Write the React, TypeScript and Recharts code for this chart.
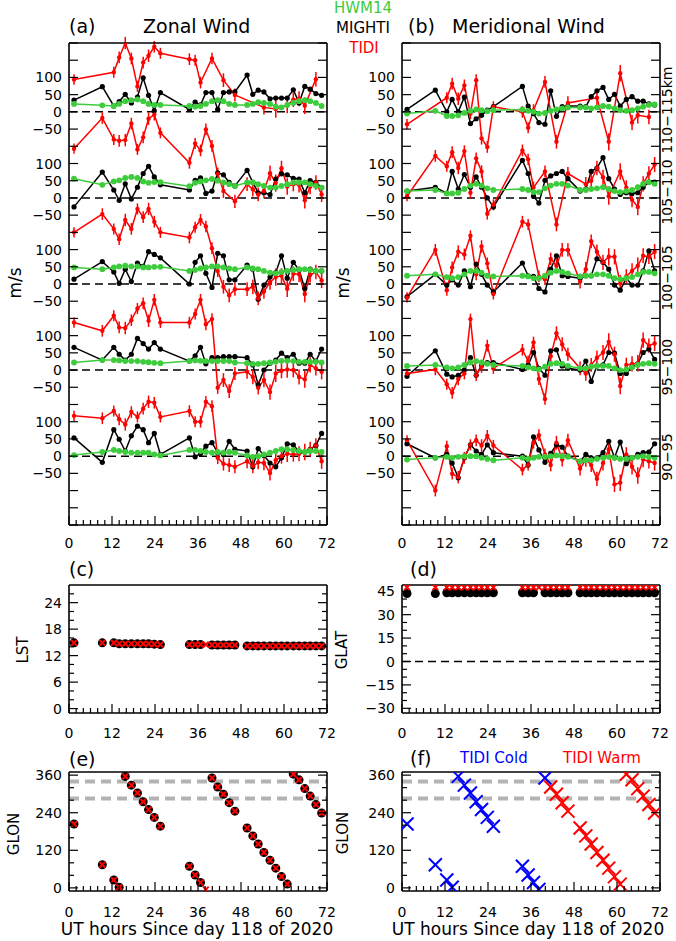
import React from "react";
import {
  ComposedChart,
  Line,
  Scatter,
  XAxis,
  YAxis,
  ReferenceLine,
  ErrorBar,
} from "recharts";

const FONT = "DejaVu Sans, Verdana, sans-serif";
const GREEN = "#3ccc3c";
const RED = "#ff0000";
const BLUE = "#0000ff";

// UT hours since day 118 of 2020 (one sample per orbit)
const HOURS = [
  1.4, 9.3, 12.5, 14.0, 15.7, 17.4, 19.1, 20.7, 22.2, 23.8, 25.5, 33.6, 35.2,
  36.7, 38.2, 39.9, 41.5, 43.1, 44.7, 46.3, 49.7, 51.3, 52.8, 54.4, 56.1, 57.7,
  59.3, 60.9, 62.6, 64.2, 65.8, 67.3, 68.9, 70.5,
];

const X_LABELS = [0, 12, 24, 36, 48, 60, 72];
const BAND_NAMES = ["90\u221295", "95\u2212100", "100\u2212105", "105\u2212110", "110\u2212115km"];
const BAND_OFFSETS = [0, 250, 500, 750, 1000];
const BAND_TICK_LABELS = [-50, 0, 50, 100];
const GLON_LINES = [285, 340];

// zonal wind (m/s), bands bottom -> top
const Z_HWM_90 = [3, 12, 18, 15, 12, 10, 10, 10, 10, 5, 2, 18, 18, 15, 12, 10, 12, 10, 12, 10, 2, -2, 0, 5, 10, 15, 20, 20, 18, 15, 12, 15, 15, 12];
const Z_MIG_90 = [53, -18, 77, 49, 15, 59, 87, 77, 39, 66, 5, 53, -2, 8, 29, 39, 10, 5, 43, 20, 15, -31, 22, 2, -20, -31, -5, 36, 33, 12, 12, 20, 31, 66];
const Z_TID_90 = [117, 110, 131, 107, 92, 128, 114, 138, 158, 155, 114, 131, 100, 100, 158, 145, -5, -22, -26, -31, -15, -29, -18, -20, -49, -12, 0, 7, 5, 7, 12, 20, 31, -15];

const Z_HWM_95 = [22, 29, 29, 28, 26, 26, 26, 24, 23, 21, 20, 26, 28, 27, 26, 26, 26, 26, 26, 22, 20, 18, 18, 20, 22, 24, 27, 27, 26, 24, 24, 24, 24, 22];
const Z_MIG_95 = [66, 29, 66, 46, 29, 46, 92, 77, 61, 80, 61, 26, 41, 66, 18, 36, 36, 39, 39, 39, 36, 15, -43, 0, 20, 29, 49, 36, 46, 20, 20, 46, 26, 61];
const Z_TID_95 = [138, 114, 158, 124, 122, 145, 179, 194, 143, 204, 138, 138, 163, 204, 133, 148, -51, -29, -61, -10, -5, -20, -51, -29, -64, -10, -2, 2, 0, -20, -27, 15, 5, -5];

const Z_HWM_100 = [48, 43, 48, 51, 53, 51, 51, 48, 48, 50, 50, 38, 41, 45, 48, 51, 51, 48, 45, 43, 48, 45, 43, 38, 33, 31, 35, 38, 41, 43, 43, 41, 38, 38];
const Z_MIG_100 = [14, 65, 35, 2, 43, 7, 61, 51, 94, 86, 76, 0, 63, 82, 31, -10, 89, 82, 12, 12, 55, 43, -44, -3, 20, 33, 82, 17, 63, 41, -13, 43, 38, 38];
const Z_TID_100 = [150, 203, 160, 130, 186, 160, 218, 194, 218, 181, 150, 135, 165, 186, 167, 104, 38, -8, -33, -15, -15, -8, -42, -22, 5, 20, 24, -14, 30, 28, -29, 26, 35, 10];

const Z_HWM_105 = [56, 38, 48, 51, 58, 61, 58, 48, 44, 46, 46, 34, 44, 48, 51, 55, 50, 45, 40, 35, 45, 45, 40, 35, 30, 30, 35, 40, 45, 45, 45, 40, 35, 30];
const Z_MIG_105 = [-26, 75, 23, -7, 41, -3, 31, 71, 92, 61, 38, 23, 51, 58, 13, 20, 73, 67, 45, 35, 80, 45, 15, 15, 10, 55, 70, 67, 57, 55, 15, 50, 45, 30];
const Z_TID_105 = [143, 232, 170, 166, 168, 216, 141, 176, 230, 242, 189, 102, 158, 138, 199, 151, 70, 20, null, -10, 40, 25, 10, 20, 72, 43, 86, 33, 40, 38, -7, 33, 45, 10];

const Z_HWM_110 = [23, 19, 17, 23, 31, 34, 36, 31, 23, 20, 20, 17, 15, 17, 23, 31, 34, 31, 23, 20, 20, 23, 28, 26, 23, 15, 13, 20, 26, 31, 34, 31, 26, 17];
const Z_MIG_110 = [34, 73, 17, 30, 51, 26, 43, 99, 48, 3, 56, 7, 28, 20, 56, 56, 7, 56, 58, 58, 107, 51, 63, 58, 38, 40, 40, 40, 64, 26, 74, 66, 53, 48];
const Z_TID_110 = [94, null, 115, 158, 200, 155, 74, 143, 163, 189, 170, 153, 150, 85, null, 155, null, 92, null, 49, null, null, null, 13, null, 8, null, 20, 35, 38, 18, null, 95, null];

// meridional wind (m/s), bands bottom -> top
const M_HWM_90 = [-10, -5, -2, -5, -2, 0, 0, 0, -5, -8, -12, -5, -8, -5, -2, -2, 0, 2, 0, -2, -15, -12, -12, -8, -5, -2, -5, -8, -8, -5, -2, 0, -2, -5];
const M_MIG_90 = [36, -5, 5, -20, -63, -5, 33, 15, 5, 33, 10, 0, -26, 56, 18, -18, 8, 33, 26, 0, -15, 5, -5, -5, 10, 43, -5, 41, -22, -5, 5, 10, 12, 36];
const M_TID_90 = [46, -100, 29, -51, -61, -5, 33, 46, 31, 59, 31, -39, -26, 39, 61, 5, -26, 39, -10, 46, -36, -10, -26, -66, -20, 20, -82, -77, 5, -31, -56, -10, -15, -20];

const M_HWM_95 = [12, 15, 8, 5, 8, 15, 22, 26, 22, 18, 15, 12, 8, 5, 2, 10, 18, 20, 18, 12, 5, 5, 10, 12, 12, 12, 5, 0, 2, 8, 15, 18, 20, 18];
const M_MIG_95 = [-18, 56, -12, -20, -15, 0, 36, -15, 15, 22, 22, 2, 15, 51, 5, -15, 56, 59, 12, 5, 0, 26, -33, 12, 15, 51, 49, -10, -10, 10, 18, 51, 61, 31];
const M_TID_95 = [-10, 2, -41, -66, -26, -10, 148, -15, 10, 71, 5, 59, 26, 80, -26, -84, 40, 107, 75, 46, 5, -10, 15, 36, 51, 82, 46, -46, 15, 18, 20, 87, 71, 77];

const M_HWM_100 = [24, 28, 20, 17, 20, 28, 38, 38, 33, 24, 22, 24, 22, 17, 17, 24, 33, 38, 35, 31, 22, 24, 24, 28, 28, 24, 17, 14, 17, 20, 28, 35, 35, 31];
const M_MIG_100 = [-37, 28, -3, 12, -3, 38, -8, 58, 28, -3, -23, 61, 24, 22, -13, -23, 43, 82, 24, 22, 17, 24, 24, 73, 63, 43, -3, -18, 17, -3, -3, 38, 96, 38];
const M_TID_100 = [-39, 99, -18, 48, 94, 86, 140, 28, 109, 60, -29, 181, 173, null, 22, 14, 73, 53, 99, 99, 7, 43, 124, 94, 63, 79, 79, 2, 22, 38, 53, 82, 79, 94];

const M_HWM_105 = [20, 23, 13, 13, 15, 26, 36, 41, 36, 28, 23, 26, 23, 17, 17, 28, 36, 41, 41, 36, 23, 23, 26, 28, 31, 26, 20, 17, 20, 23, 31, 41, 46, 41];
const M_MIG_105 = [20, 31, 13, 77, 26, 68, 31, 61, 31, 0, -26, 109, 71, 5, -15, 51, 64, 71, 77, 56, 20, 26, 77, 87, 117, 56, 26, 10, 15, 13, 15, 31, 46, 46];
const M_TID_105 = [5, 122, 92, 133, 87, 136, 15, 115, 77, -46, -20, 138, 112, 30, null, 77, null, -77, null, 71, null, 40, 50, 87, 60, 5, null, 77, 30, -5, -26, 41, 71, 97];

const M_HWM_110 = [-5, 3, -12, -12, -10, -3, 3, 7, 5, 2, 5, 7, 3, 0, -5, -3, 3, 7, 10, 13, 13, 13, 10, 13, 17, 15, 10, 5, 3, 5, 10, 15, 20, 22];
const M_MIG_110 = [7, 63, 0, 36, 0, 43, -34, -20, -10, 5, 15, 74, 17, -5, -31, -36, 61, -13, 15, 17, 17, 15, 44, 61, 71, 36, 51, 17, 36, 44, 31, 31, 23, 20];
const M_TID_110 = [-36, null, 41, 82, 38, 77, -5, 92, -77, -102, 15, 0, -46, 5, null, 87, null, -87, null, 26, null, null, null, 41, null, -87, null, 112, null, -31, -10, null, -15, null];

// TIDI wind uncertainty (m/s)
const TIDI_ERR = [15, 17, 16, 17, 18, 17, 16, 17, 18, 17, 16, 17, 16, 17, 17, 17, 18, 20, 20, 19, 20, 21, 20, 21, 22, 25, 22, 24, 21, 22, 24, 22, 21, 22];

// geolocation of the coincidences
const LST_MIG = [14.9, 14.9, 14.9, 14.7, 14.7, 14.7, 14.7, 14.7, 14.7, 14.6, 14.5, 14.5, 14.5, 14.5, null, 14.4, 14.4, 14.4, 14.4, 14.4, 14.2, 14.2, 14.2, 14.2, 14.2, 14.2, 14.2, 14.2, 14.2, 14.2, 14.2, 14.2, 14.2, 14.2];
const LST_TID = [14.9, 14.9, 14.9, 14.7, 14.7, 14.7, 14.7, 14.7, 14.7, 14.6, 14.5, 14.5, 14.5, 14.5, 14.5, 14.4, 14.4, 14.4, 14.4, 14.4, 14.2, 14.2, 14.2, 14.2, 14.2, 14.2, 14.2, 14.2, 14.2, 14.2, 14.2, 14.2, 14.2, 14.2];
const GLAT_MIG = [43.5, 43.5, 44, 44, 44, 44, 44, 44, 44, 44, 44, 44, 44, 44, null, 44, 44, 44, 44, 44, 44, 44, 44, 44, 44, 44, 44, 44, 44, 44, 44, 44, 44, 44];
const GLAT_TID = [47.5, 47.5, 47.5, 47.5, 47.5, 47.5, 47.5, 47.5, 47.5, 47.5, 47.5, 47.5, 47.5, 47.5, 47.5, 47.5, 47.5, 47.5, 47.5, 47.5, 47.5, 47.5, 47.5, 47.5, 47.5, 47.5, 47.5, 47.5, 47.5, 47.5, 47.5, 47.5, 47.5, 47.5];
const GLON_MIG = [204, 74, 25, 2, 356, 328, 303, 275, 250, 225, 197, 69, 41, 17, null, 351, 322, 299, 272, 245, 191, 166, 140, 113, 88, 63, 36, 12, 363, 345, 317, 293, 266, 239];
const GLON_TID = [204, 74, 25, 2, 356, 328, 303, 275, 250, 225, 197, 69, 41, 17, -5, 351, 322, 299, 272, 245, 191, 166, 140, 113, 88, 63, 36, 12, 363, 345, 317, 293, 266, 239];
const COLD_LAST = 15; // TIDI cold-side samples up to this index, warm afterwards

type Pt = { t: number; v: number; e?: number };

function series(vals: (number | null)[], offset = 0, err?: number[], from = 0, to = 999): Pt[] {
  const out: Pt[] = [];
  vals.forEach((v, i) => {
    if (v === null || i < from || i > to) return;
    out.push({ t: HOURS[i], v: v + offset, e: err ? err[i] : undefined });
  });
  return out;
}

const X_TICKS = Array.from({ length: 37 }, (_, i) => i * 2);
const BAND_TICKS = Array.from({ length: 29 }, (_, i) => -200 + i * 50);
const minus = (v: number) => (v < 0 ? `\u2212${-v}` : `${v}`);

function bandLabel(v: number) {
  const b = Math.round(v / 250);
  const rel = v - BAND_OFFSETS[Math.max(0, Math.min(4, b))];
  if (b < 0 || b > 4 || !BAND_TICK_LABELS.includes(rel)) return "";
  return minus(rel);
}

type Side = "b" | "t" | "l" | "r";

function tickRenderer(side: Side, isMajor: (v: number) => boolean, label?: (v: number) => string, gap = 23) {
  return (p: any) => {
    const x = Number(p.x);
    const y = Number(p.y);
    const v = Number(p.payload?.value);
    const len = isMajor(v) ? 9 : 5;
    const txt = label ? label(v) : "";
    let ln;
    if (side === "b") ln = <line x1={x} x2={x} y1={y} y2={y - len} />;
    else if (side === "t") ln = <line x1={x} x2={x} y1={y} y2={y + len} />;
    else if (side === "l") ln = <line x1={x} x2={x + len} y1={y} y2={y} />;
    else ln = <line x1={x} x2={x - len} y1={y} y2={y} />;
    return (
      <g stroke="#000" strokeWidth={1.2}>
        {ln}
        {txt !== "" &&
          (side === "b" ? (
            <text x={x} y={y + gap} textAnchor="middle" stroke="none" fill="#000" fontSize={14} fontFamily={FONT}>
              {txt}
            </text>
          ) : (
            <text x={x - 7} y={y} dy="0.36em" textAnchor="end" stroke="none" fill="#000" fontSize={14} fontFamily={FONT}>
              {txt}
            </text>
          ))}
      </g>
    );
  };
}

const xMajor = (v: number) => v % 12 === 0;
const xLabel = (v: number) => (X_LABELS.includes(v) ? `${v}` : "");

// axes are 1px thick so that recharts draws them; margins are reduced by 1 to compensate
function axes(
  yDomain: [number, number],
  yTicks: number[],
  yMajor: (v: number) => boolean,
  yLabel: (v: number) => string,
  gap: number
) {
  const common = {
    type: "number" as const,
    interval: 0 as const,
    allowDataOverflow: true,
    tickSize: 0,
    tickMargin: 0,
    tickLine: false,
    axisLine: { stroke: "#000", strokeWidth: 1.6 },
  };
  return [
    <XAxis key="xb" xAxisId="b" dataKey="t" domain={[0, 72]} ticks={X_TICKS} height={1} tick={tickRenderer("b", xMajor, xLabel, gap)} {...common} />,
    <XAxis key="xt" xAxisId="t" orientation="top" domain={[0, 72]} ticks={X_TICKS} height={1} tick={tickRenderer("t", xMajor)} {...common} />,
    <YAxis key="yl" yAxisId="l" dataKey="v" domain={yDomain} ticks={yTicks} width={1} tick={tickRenderer("l", yMajor, yLabel)} {...common} />,
    <YAxis key="yr" yAxisId="r" orientation="right" domain={yDomain} ticks={yTicks} width={1} tick={tickRenderer("r", yMajor)} {...common} />,
  ];
}

function WindPanel(props: {
  left: number;
  width: number;
  ml: number;
  mr: number;
  hwm: number[][];
  mig: number[][];
  tidi: (number | null)[][];
}) {
  const { left, width, ml, mr, hwm, mig, tidi } = props;
  return (
    <div style={{ position: "absolute", left, top: 0 }}>
      <ComposedChart width={width} height={560} margin={{ top: 42, right: mr - 1, bottom: 34, left: ml - 1 }}>
        {axes([-200, 1200], BAND_TICKS, () => true, bandLabel, 23)}
        {BAND_OFFSETS.map((off) => (
          <ReferenceLine key={`z${off}`} xAxisId="b" yAxisId="l" y={off} stroke="#000" strokeWidth={1.5} strokeDasharray="8 5" />
        ))}
        {BAND_OFFSETS.map((off, b) => (
          <Line
            key={`m${b}`}
            xAxisId="b"
            yAxisId="l"
            data={series(mig[b], off)}
            dataKey="v"
            stroke="#000"
            strokeWidth={1.5}
            dot={{ r: 2.6, fill: "#000", stroke: "#000", strokeWidth: 0 }}
            isAnimationActive={false}
          />
        ))}
        {BAND_OFFSETS.map((off, b) => (
          <Line
            key={`t${b}`}
            xAxisId="b"
            yAxisId="l"
            data={series(tidi[b], off, TIDI_ERR)}
            dataKey="v"
            stroke={RED}
            strokeWidth={1.5}
            dot={{ r: 2.2, fill: RED, stroke: RED, strokeWidth: 0 }}
            isAnimationActive={false}
          >
            <ErrorBar dataKey="e" width={0} stroke={RED} strokeWidth={1.5} direction="y" isAnimationActive={false} />
          </Line>
        ))}
        {BAND_OFFSETS.map((off, b) => (
          <Line
            key={`h${b}`}
            xAxisId="b"
            yAxisId="l"
            data={series(hwm[b], off)}
            dataKey="v"
            stroke={GREEN}
            strokeWidth={1.5}
            dot={{ r: 2.9, fill: GREEN, stroke: GREEN, strokeWidth: 0 }}
            isAnimationActive={false}
          />
        ))}
      </ComposedChart>
    </div>
  );
}

const dotShape = (p: any) => <circle cx={p.cx} cy={p.cy} r={4.5} fill="#000" />;
const crossShape = (color: string, h: number, w: number) => (p: any) => (
  <g stroke={color} strokeWidth={w}>
    <line x1={p.cx - h} y1={p.cy - h} x2={p.cx + h} y2={p.cy + h} />
    <line x1={p.cx - h} y1={p.cy + h} x2={p.cx + h} y2={p.cy - h} />
  </g>
);

function GeoPanel(props: {
  left: number;
  top: number;
  width: number;
  height: number;
  margin: { top: number; right: number; bottom: number; left: number };
  yDomain: [number, number];
  yTicks: number[];
  yMajor: (v: number) => boolean;
  gap: number;
  children: React.ReactNode;
}) {
  const { left, top, width, height, margin, yDomain, yTicks, yMajor, gap, children } = props;
  const m = { top: margin.top - 1, right: margin.right - 1, bottom: margin.bottom - 1, left: margin.left - 1 };
  return (
    <div style={{ position: "absolute", left, top }}>
      <ComposedChart width={width} height={height} margin={m}>
        {axes(yDomain, yTicks, yMajor, (v) => (yMajor(v) ? minus(v) : ""), gap)}
        {children}
      </ComposedChart>
    </div>
  );
}

const LST_TICKS = Array.from({ length: 14 }, (_, i) => i * 2);
const GLAT_TICKS = Array.from({ length: 16 }, (_, i) => -30 + i * 5);
const GLON_TICKS = Array.from({ length: 10 }, (_, i) => i * 40);

function Txt(p: {
  x: number;
  y: number;
  children: React.ReactNode;
  size?: number;
  color?: string;
  anchor?: "start" | "middle" | "end";
  rotate?: boolean;
}) {
  const { x, y, children, size = 15, color = "#000", anchor = "start", rotate } = p;
  return (
    <text
      x={x}
      y={y}
      fontSize={size}
      fill={color}
      textAnchor={anchor}
      fontFamily={FONT}
      dominantBaseline={rotate ? "central" : undefined}
      transform={rotate ? `rotate(-90 ${x} ${y})` : undefined}
    >
      {children}
    </text>
  );
}

export default function App() {
  const zonal = {
    hwm: [Z_HWM_90, Z_HWM_95, Z_HWM_100, Z_HWM_105, Z_HWM_110],
    mig: [Z_MIG_90, Z_MIG_95, Z_MIG_100, Z_MIG_105, Z_MIG_110],
    tidi: [Z_TID_90, Z_TID_95, Z_TID_100, Z_TID_105, Z_TID_110],
  };
  const merid = {
    hwm: [M_HWM_90, M_HWM_95, M_HWM_100, M_HWM_105, M_HWM_110],
    mig: [M_MIG_90, M_MIG_95, M_MIG_100, M_MIG_105, M_MIG_110],
    tidi: [M_TID_90, M_TID_95, M_TID_100, M_TID_105, M_TID_110],
  };
  const mL = { top: 25, right: 13, bottom: 37, left: 69 };
  const mR = { top: 25, right: 16, bottom: 37, left: 62 };
  const eL = { top: 22, right: 13, bottom: 50, left: 69 };
  const eR = { top: 22, right: 16, bottom: 50, left: 62 };
  const bandCenters = [457, 367, 278, 192, 110];

  return (
    <div style={{ position: "absolute", left: 0, top: 0, width: 676, height: 941, background: "#fff", overflow: "hidden" }}>
      <WindPanel left={0} width={340} ml={69} mr={13} {...zonal} />
      <WindPanel left={340} width={336} ml={62} mr={16} {...merid} />

      <GeoPanel left={0} top={560} width={340} height={190} margin={mL} yDomain={[-1, 28]} yTicks={LST_TICKS} yMajor={(v) => v % 6 === 0} gap={25}>
        <Scatter xAxisId="b" yAxisId="l" data={series(LST_MIG)} dataKey="v" shape={dotShape} isAnimationActive={false} />
        <Scatter xAxisId="b" yAxisId="l" data={series(LST_TID)} dataKey="v" shape={crossShape(RED, 2.8, 2)} isAnimationActive={false} />
      </GeoPanel>

      <GeoPanel left={340} top={560} width={336} height={190} margin={mR} yDomain={[-33, 49]} yTicks={GLAT_TICKS} yMajor={(v) => v % 15 === 0} gap={25}>
        <ReferenceLine xAxisId="b" yAxisId="l" y={0} stroke="#000" strokeWidth={1.5} strokeDasharray="8 5" />
        <Scatter xAxisId="b" yAxisId="l" data={series(GLAT_MIG)} dataKey="v" shape={dotShape} isAnimationActive={false} />
        <Scatter xAxisId="b" yAxisId="l" data={series(GLAT_TID)} dataKey="v" shape={crossShape(RED, 2.8, 2)} isAnimationActive={false} />
      </GeoPanel>

      <GeoPanel left={0} top={750} width={340} height={191} margin={eL} yDomain={[-10, 370]} yTicks={GLON_TICKS} yMajor={(v) => v % 120 === 0} gap={26}>
        {GLON_LINES.map((g) => (
          <ReferenceLine key={g} xAxisId="b" yAxisId="l" y={g} stroke="#b4b4b4" strokeWidth={4} strokeDasharray="10 6" />
        ))}
        <Scatter xAxisId="b" yAxisId="l" data={series(GLON_MIG)} dataKey="v" shape={dotShape} isAnimationActive={false} />
        <Scatter xAxisId="b" yAxisId="l" data={series(GLON_TID)} dataKey="v" shape={crossShape(RED, 2.8, 2)} isAnimationActive={false} />
      </GeoPanel>

      <GeoPanel left={340} top={750} width={336} height={191} margin={eR} yDomain={[-10, 370]} yTicks={GLON_TICKS} yMajor={(v) => v % 120 === 0} gap={26}>
        {GLON_LINES.map((g) => (
          <ReferenceLine key={g} xAxisId="b" yAxisId="l" y={g} stroke="#b4b4b4" strokeWidth={4} strokeDasharray="10 6" />
        ))}
        <Scatter xAxisId="b" yAxisId="l" data={series(GLON_TID, 0, undefined, 0, COLD_LAST)} dataKey="v" shape={crossShape(BLUE, 6.5, 2)} isAnimationActive={false} />
        <Scatter xAxisId="b" yAxisId="l" data={series(GLON_TID, 0, undefined, COLD_LAST + 1)} dataKey="v" shape={crossShape(RED, 6.5, 2)} isAnimationActive={false} />
      </GeoPanel>

      <svg width={676} height={941} style={{ position: "absolute", left: 0, top: 0, pointerEvents: "none" }}>
        <Txt x={69} y={33} size={19}>(a)</Txt>
        <Txt x={143} y={33} size={19}>Zonal Wind</Txt>
        <Txt x={408} y={33} size={19}>(b)</Txt>
        <Txt x={452} y={33} size={19}>Meridional Wind</Txt>
        <Txt x={363} y={13} anchor="middle" color={GREEN}>HWM14</Txt>
        <Txt x={363} y={33} anchor="middle">MIGHTI</Txt>
        <Txt x={364} y={53} anchor="middle" color={RED}>TIDI</Txt>
        <Txt x={15} y={283} size={17} rotate anchor="middle">m/s</Txt>
        <Txt x={343} y={283} size={17} rotate anchor="middle">m/s</Txt>
        {BAND_NAMES.map((n, i) => (
          <Txt key={n} x={667} y={bandCenters[i]} size={14} rotate anchor="middle">{n}</Txt>
        ))}
        <Txt x={69} y={576} size={19}>(c)</Txt>
        <Txt x={410} y={576} size={19}>(d)</Txt>
        <Txt x={23} y={650} rotate anchor="middle">LST</Txt>
        <Txt x={342} y={650} rotate anchor="middle">GLAT</Txt>
        <Txt x={69} y={766} size={19}>(e)</Txt>
        <Txt x={410} y={765} size={19}>(f)</Txt>
        <Txt x={460} y={763} color={BLUE}>TIDI Cold</Txt>
        <Txt x={563} y={763} color={RED}>TIDI Warm</Txt>
        <Txt x={14} y={834} rotate anchor="middle">GLON</Txt>
        <Txt x={343} y={833} rotate anchor="middle">GLON</Txt>
        <Txt x={197} y={935} size={17} anchor="middle">UT hours Since day 118 of 2020</Txt>
        <Txt x={528} y={935} size={17} anchor="middle">UT hours Since day 118 of 2020</Txt>
      </svg>
    </div>
  );
}
